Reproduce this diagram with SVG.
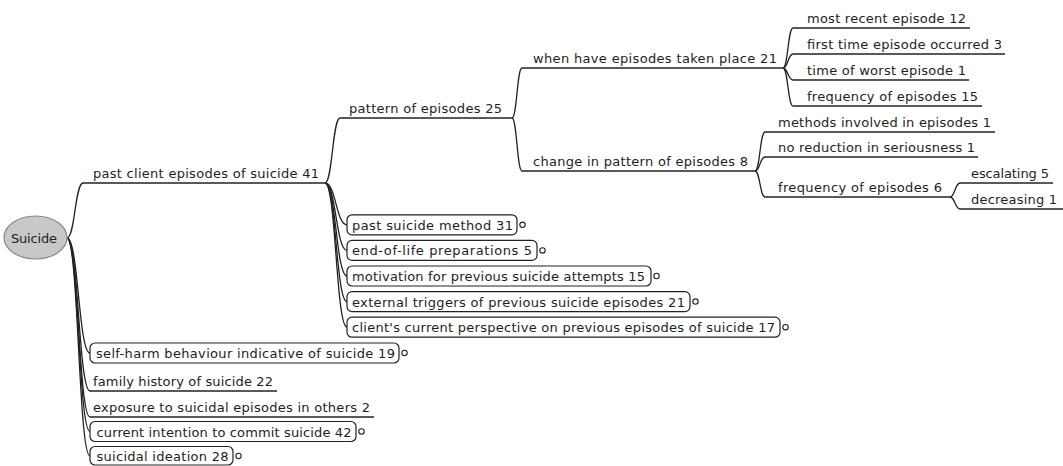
<svg xmlns="http://www.w3.org/2000/svg" width="1063" height="466" viewBox="0 0 1063 466">
<style>
text{font-family:"DejaVu Sans","Liberation Sans",sans-serif;font-size:13px;fill:#1e1e1e}
.e{fill:none;stroke:#222;stroke-width:1.3}
.u{stroke:#222;stroke-width:1.3}
.b{fill:#fff;stroke:#222;stroke-width:1.2}
.f{fill:#fff;stroke:#222;stroke-width:1.1}
</style>
<rect width="1063" height="466" fill="#fff"/>
<g id="connectors">
<path class="e" d="M67,238 C75,238 75,183 83,183"/>
<path class="e" d="M325,183 C332.5,183 332.5,118 340,118"/>
<path class="e" d="M512,118 C517,118 517,68 522,68"/>
<path class="e" d="M512,118 C517,118 517,171 522,171"/>
<path class="e" d="M783,68 C788,68 788,28 793,28"/>
<path class="e" d="M783,68 C788,68 788,54 793,54"/>
<path class="e" d="M783,68 C788,68 788,80 793,80"/>
<path class="e" d="M783,68 C788,68 788,106 793,106"/>
<path class="e" d="M755,171 C760,171 760,132 765,132"/>
<path class="e" d="M755,171 C760,171 760,157 765,157"/>
<path class="e" d="M755,171 C760,171 760,197 765,197"/>
<path class="e" d="M950,197 C955,197 955,183 960,183"/>
<path class="e" d="M950,197 C955,197 955,209 960,209"/>
<path class="e" d="M325,183 C336,183 336,224.8 347,224.8"/>
<path class="e" d="M325,183 C336,183 336,250.4 347,250.4"/>
<path class="e" d="M325,183 C336,183 336,276 347,276"/>
<path class="e" d="M325,183 C336,183 336,301.6 347,301.6"/>
<path class="e" d="M325,183 C336,183 336,327.2 347,327.2"/>
<path class="e" d="M67,238 C78.5,238 78.5,353 90,353"/>
<path class="e" d="M67,238 C78.5,238 78.5,391 90,391"/>
<path class="e" d="M67,238 C78.5,238 78.5,417 90,417"/>
<path class="e" d="M67,238 C78.5,238 78.5,431.5 90,431.5"/>
<path class="e" d="M67,238 C78.5,238 78.5,456 90,456"/>
</g>
<g id="root">
<ellipse cx="35.5" cy="237.5" rx="31.5" ry="21.5" fill="#c8c8c8" stroke="#888" stroke-width="1.2"/>
<text x="11" y="242.5" textLength="46">Suicide</text>
</g>
<g id="n-past-client">
<line class="u" x1="83" y1="183" x2="325" y2="183"/>
<text x="93" y="178" textLength="226">past client episodes of suicide 41</text>
</g>
<g id="n-pattern">
<line class="u" x1="340" y1="118" x2="512" y2="118"/>
<text x="349" y="113" textLength="153">pattern of episodes 25</text>
</g>
<g id="n-when">
<line class="u" x1="522" y1="68" x2="783" y2="68"/>
<text x="533" y="63" textLength="244">when have episodes taken place 21</text>
</g>
<g id="n-change">
<line class="u" x1="522" y1="171" x2="755" y2="171"/>
<text x="533" y="166" textLength="215">change in pattern of episodes 8</text>
</g>
<g id="n-most-recent">
<line class="u" x1="793" y1="28" x2="970" y2="28"/>
<text x="807" y="23" textLength="159">most recent episode 12</text>
</g>
<g id="n-first-time">
<line class="u" x1="793" y1="54" x2="1005" y2="54"/>
<text x="807" y="49" textLength="195">first time episode occurred 3</text>
</g>
<g id="n-worst">
<line class="u" x1="793" y1="80" x2="969" y2="80"/>
<text x="807" y="75" textLength="159">time of worst episode 1</text>
</g>
<g id="n-frequency15">
<line class="u" x1="793" y1="106" x2="982" y2="106"/>
<text x="807" y="101" textLength="171">frequency of episodes 15</text>
</g>
<g id="n-methods">
<line class="u" x1="765" y1="132" x2="995" y2="132"/>
<text x="778" y="127" textLength="213">methods involved in episodes 1</text>
</g>
<g id="n-no-reduction">
<line class="u" x1="765" y1="157" x2="978" y2="157"/>
<text x="778" y="152" textLength="197">no reduction in seriousness 1</text>
</g>
<g id="n-frequency6">
<line class="u" x1="765" y1="197" x2="950" y2="197"/>
<text x="778" y="192" textLength="164">frequency of episodes 6</text>
</g>
<g id="n-escalating">
<line class="u" x1="960" y1="183" x2="1053" y2="183"/>
<text x="971" y="178" textLength="78">escalating 5</text>
</g>
<g id="n-decreasing">
<line class="u" x1="960" y1="209" x2="1063" y2="209"/>
<text x="971" y="204" textLength="86">decreasing 1</text>
</g>
<g id="n-method">
<rect class="b" x="347" y="214.8" width="170" height="20" rx="5"/>
<text x="352" y="229.8" textLength="161">past suicide method 31</text>
<circle class="f" cx="522.5" cy="224.8" r="2.7"/>
</g>
<g id="n-eol">
<rect class="b" x="347" y="240.4" width="190" height="20" rx="5"/>
<text x="352" y="255.4" textLength="180">end-of-life preparations 5</text>
<circle class="f" cx="542.5" cy="250.4" r="2.7"/>
</g>
<g id="n-motivation">
<rect class="b" x="347" y="266" width="304" height="20" rx="5"/>
<text x="352" y="281" textLength="293">motivation for previous suicide attempts 15</text>
<circle class="f" cx="656.5" cy="276" r="2.7"/>
</g>
<g id="n-triggers">
<rect class="b" x="347" y="291.6" width="343" height="20" rx="5"/>
<text x="352" y="306.6" textLength="333">external triggers of previous suicide episodes 21</text>
<circle class="f" cx="695.5" cy="301.6" r="2.7"/>
</g>
<g id="n-perspective">
<rect class="b" x="347" y="317.2" width="433" height="20" rx="5"/>
<text x="352" y="332.2" textLength="423">client's current perspective on previous episodes of suicide 17</text>
<circle class="f" cx="785.5" cy="327.2" r="2.7"/>
</g>
<g id="n-self-harm">
<rect class="b" x="90" y="343" width="309" height="20" rx="5"/>
<text x="96" y="358" textLength="299">self-harm behaviour indicative of suicide 19</text>
<circle class="f" cx="404.5" cy="353" r="2.7"/>
</g>
<g id="n-family">
<line class="u" x1="90" y1="391" x2="277" y2="391"/>
<text x="93" y="386" textLength="180">family history of suicide 22</text>
</g>
<g id="n-exposure">
<line class="u" x1="90" y1="417" x2="374" y2="417"/>
<text x="93" y="411.5" textLength="277">exposure to suicidal episodes in others 2</text>
</g>
<g id="n-intention">
<rect class="b" x="90" y="421.5" width="266" height="20" rx="5"/>
<text x="96.5" y="436.5" textLength="255">current intention to commit suicide 42</text>
<circle class="f" cx="361.5" cy="431.5" r="2.7"/>
</g>
<g id="n-ideation">
<rect class="b" x="90" y="446.5" width="143" height="18.5" rx="5"/>
<text x="96.5" y="461" textLength="132">suicidal ideation 28</text>
<circle class="f" cx="238.5" cy="456" r="2.7"/>
</g>
</svg>
